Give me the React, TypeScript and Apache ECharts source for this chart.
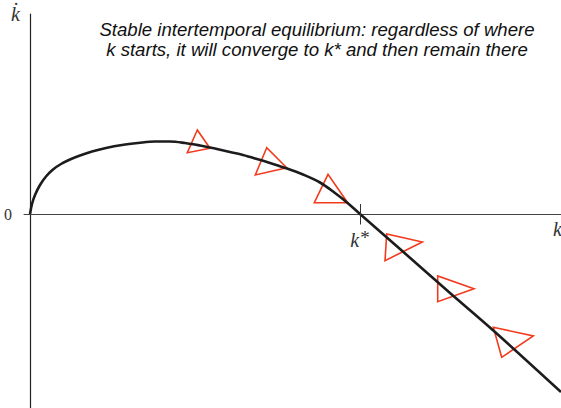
import React, { useEffect, useRef } from "react";
import * as echarts from "echarts";

// Phase diagram of capital accumulation: k-dot against k
const K_STAR = 3.3;

// points along the k-dot curve, [k, kdot]
const curveK = [0, 0.02, 0.05, 0.1, 0.16, 0.23, 0.31, 0.4, 0.5, 0.62, 0.76, 0.92, 1.08, 1.25, 1.4, 1.55, 1.7, 1.85, 2.0, 2.13, 2.27, 2.4, 2.57, 2.73, 2.9, 3.05, 3.17, 3.3, 3.7, 4.2, 4.65, 5.31];
const curveKdot = [0, 0.1, 0.19, 0.29, 0.375, 0.445, 0.5, 0.545, 0.585, 0.625, 0.66, 0.69, 0.71, 0.725, 0.725, 0.71, 0.685, 0.655, 0.62, 0.59, 0.55, 0.51, 0.455, 0.395, 0.315, 0.21, 0.115, 0, -0.35, -0.79, -1.18, -1.78];

// direction markers: three vertices each, [k1, y1, k2, y2, k3, y3]
const arrowheads = [
  [1.673, 0.84, 1.573, 0.613, 1.8, 0.657],
  [2.367, 0.663, 2.253, 0.39, 2.567, 0.463],
  [2.98, 0.397, 2.843, 0.113, 3.177, 0.113],
  [3.567, -0.2, 3.55, -0.467, 3.923, -0.28],
  [4.077, -0.62, 4.077, -0.877, 4.44, -0.747],
  [4.633, -1.133, 4.717, -1.433, 5.033, -1.22],
];

const titleLines = [
  "Stable intertemporal equilibrium: regardless of where",
  "k starts, it will converge to k* and then remain there",
];

const SERIF = "'Liberation Serif', 'DejaVu Serif', serif";
const SANS = "'Liberation Sans', Arial, sans-serif";

export default function App() {
  const ref = useRef<HTMLDivElement>(null);

  useEffect(() => {
    if (!ref.current) return;
    const chart = echarts.init(ref.current, null, { renderer: "svg" });
    const curve = curveK.map((k, i) => [k, curveKdot[i]]);

    chart.setOption({
      animation: false,
      backgroundColor: "#ffffff",
      grid: { left: 24, right: 0, top: 14, bottom: 0, outerBoundsMode: "none" },
      xAxis: {
        type: "value",
        min: -0.06,
        max: 5.31,
        splitLine: { show: false },
        axisLine: { onZero: true, lineStyle: { color: "#444", width: 1 } },
        axisTick: { show: false },
        axisLabel: { show: false },
      },
      yAxis: {
        type: "value",
        min: -1.94,
        max: 2.0,
        splitLine: { show: false },
        axisLine: { onZero: true, lineStyle: { color: "#222", width: 1.2 } },
        axisTick: { show: false },
        axisLabel: {
          customValues: [0],
          margin: 12,
          formatter: () => "0",
          fontFamily: SERIF,
          fontSize: 16,
          color: "#333",
        },
      },
      graphic: [
        {
          type: "text",
          left: 11,
          top: 4,
          style: { text: "k\u0307", fontFamily: SERIF, fontStyle: "italic", fontSize: 20, fill: "#333" },
        },
        {
          type: "text",
          left: 553,
          top: 219,
          style: { text: "k", fontFamily: SERIF, fontStyle: "italic", fontSize: 20, fill: "#333" },
        },
        {
          type: "text",
          x: 317,
          y: 19,
          style: {
            text: titleLines.join("\n"),
            fontFamily: SANS,
            fontStyle: "italic",
            fontSize: 18.6,
            lineHeight: 20,
            align: "center",
            fill: "#111",
          },
        },
      ],
      series: [
        {
          type: "custom",
          z: 2,
          clip: false,
          data: arrowheads,
          renderItem: (_params: any, api: any) => {
            const pts = [0, 1, 2].map((i) => api.coord([api.value(2 * i), api.value(2 * i + 1)]));
            return {
              type: "polygon",
              shape: { points: pts },
              style: { fill: "none", stroke: "#f23a1d", lineWidth: 1.6 },
            };
          },
        },
        {
          type: "line",
          z: 3,
          data: curve,
          showSymbol: false,
          smooth: 0.35,
          lineStyle: { color: "#1c1c1c", width: 2.6 },
          markLine: {
            silent: true,
            symbol: "none",
            lineStyle: { color: "#333", width: 1, type: "solid" },
            label: {
              show: true,
              position: "end",
              distance: 3,
              formatter: () => "{k|k}{s|*}",
              rich: {
                k: { fontFamily: SERIF, fontStyle: "italic", fontSize: 20, color: "#333" },
                s: { fontFamily: SERIF, fontSize: 19, color: "#333", verticalAlign: "top", padding: [0, 0, 6, 1] },
              },
            },
            data: [[{ coord: [K_STAR, 0.1] }, { coord: [K_STAR, -0.105] }]],
          },
        },
      ],
    });

    return () => chart.dispose();
  }, []);

  return (
    <div
      ref={ref}
      style={{ position: "fixed", left: 0, top: 0, width: 561, height: 408 }}
    />
  );
}
